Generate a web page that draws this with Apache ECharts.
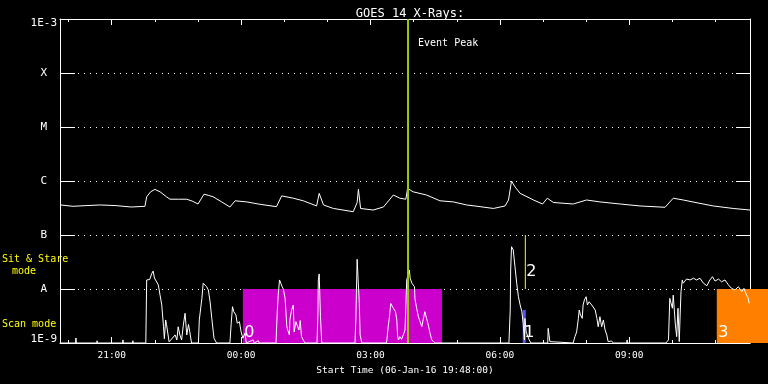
<!DOCTYPE html>
<html><head><meta charset="utf-8">
<script src="https://cdn.jsdelivr.net/npm/echarts@6/dist/echarts.min.js"></script>
<style>html,body{margin:0;padding:0;background:#000;}#c{width:768px;height:384px;}</style>
</head><body><div id="c"></div>
<script>
// ---------- data ----------
const titleText = 'GOES 14 X-Rays:';
const xAxisName = 'Start Time (06-Jan-16 19:48:00)';
const startHour = 19.8;   // 06-Jan-16 19:48 (hours from 06-Jan 00:00)
const endHour = 35.8;
const majorTickHours = [21, 24, 27, 30, 33];
const majorTickLabels = ['21:00', '00:00', '03:00', '06:00', '09:00'];
const minorTickHours = [20, 21, 22, 23, 24, 25, 26, 27, 28, 29, 30, 31, 32, 33, 34, 35];
const yMin = 1e-9, yMax = 1e-3;
const yTickLabels = ['1E-9', 'A', 'B', 'C', 'M', 'X', '1E-3'];

// long channel (1-8 A), hours / W m^-2
const longTimes = [19.82,20.10,20.40,20.73,21.10,21.45,21.77,21.81,21.90,22.00,22.12,22.27,22.35,22.55,22.74,22.88,23.00,23.14,23.25,23.35,23.55,23.74,23.86,24.13,24.44,24.82,24.94,25.21,25.44,25.75,25.81,25.91,26.14,26.60,26.69,26.72,26.77,27.06,27.30,27.53,27.68,27.82,27.86,27.89,27.99,28.30,28.61,28.92,29.23,29.54,29.85,30.12,30.20,30.27,30.35,30.47,30.78,30.99,31.10,31.24,31.70,32.01,32.32,32.79,33.25,33.83,34.02,34.25,34.64,34.95,35.41,35.80];
const longFlux = [3.6e-7,3.4e-7,3.5e-7,3.6e-7,3.5e-7,3.3e-7,3.4e-7,5.1e-7,6.3e-7,7.0e-7,6.3e-7,5.1e-7,4.6e-7,4.6e-7,4.6e-7,4.2e-7,3.75e-7,5.7e-7,5.4e-7,5.1e-7,4.1e-7,3.3e-7,4.3e-7,4.1e-7,3.7e-7,3.35e-7,5.3e-7,4.8e-7,4.3e-7,3.45e-7,5.9e-7,3.6e-7,3.1e-7,2.7e-7,4.0e-7,7.0e-7,3.1e-7,2.9e-7,3.3e-7,5.5e-7,4.8e-7,4.6e-7,7.3e-7,7.6e-7,6.3e-7,5.5e-7,4.3e-7,4.1e-7,3.6e-7,3.35e-7,3.1e-7,3.45e-7,4.45e-7,1.0e-6,7.8e-7,5.9e-7,4.45e-7,3.75e-7,4.8e-7,4.0e-7,3.75e-7,4.45e-7,4.1e-7,3.75e-7,3.45e-7,3.26e-7,4.8e-7,4.45e-7,3.85e-7,3.45e-7,3.1e-7,2.9e-7];

// short channel (0.5-4 A)
const shortTimes = [19.82,20.16,20.17,20.18,20.65,20.66,20.67,21.25,21.26,21.27,21.48,21.49,21.50,21.79,21.81,21.84,21.88,21.93,21.96,21.99,22.08,22.12,22.16,22.20,22.22,22.25,22.27,22.29,22.33,22.36,22.47,22.51,22.54,22.58,22.62,22.66,22.70,22.74,22.78,22.81,22.85,23.01,23.03,23.06,23.09,23.12,23.16,23.20,23.24,23.28,23.32,23.37,23.43,23.74,23.77,23.80,23.83,23.88,23.91,23.96,24.00,24.04,24.09,24.12,24.28,24.30,24.40,24.42,24.81,24.82,24.84,24.86,24.89,24.92,24.95,24.98,25.00,25.02,25.06,25.08,25.12,25.13,25.17,25.21,25.23,25.27,25.31,25.34,25.37,25.40,25.44,25.48,25.76,25.78,25.79,25.81,25.84,25.87,26.64,26.66,26.68,26.69,26.73,26.74,26.76,26.80,27.37,27.38,27.41,27.44,27.47,27.49,27.51,27.55,27.58,27.61,27.63,27.65,27.68,27.72,27.76,27.80,27.84,27.90,27.92,27.96,28.02,28.03,28.07,28.11,28.15,28.19,28.22,28.26,28.30,28.34,28.38,28.42,28.50,28.87,28.88,28.89,30.21,30.24,30.25,30.27,30.31,30.35,30.39,30.43,30.47,30.51,30.54,30.57,30.58,30.61,30.65,30.68,30.72,31.11,31.12,31.16,31.18,31.70,31.74,31.78,31.82,31.84,31.87,31.91,31.93,31.96,32.00,32.03,32.07,32.13,32.17,32.21,32.25,32.28,32.32,32.36,32.40,32.44,32.48,32.51,32.59,32.63,32.94,32.95,32.96,33.85,33.91,33.94,33.97,34.00,34.02,34.05,34.07,34.10,34.13,34.16,34.18,34.20,34.23,34.25,34.29,34.33,34.41,34.49,34.56,34.64,34.72,34.80,34.87,34.93,34.99,35.07,35.14,35.22,35.30,35.37,35.45,35.53,35.61,35.66,35.72,35.76,35.78];
const shortFlux = [1e-9,1e-9,1.24e-9,1e-9,1e-9,1.1e-9,1e-9,1e-9,1.14e-9,1e-9,1e-9,1.1e-9,1e-9,1e-9,1.47e-8,1.4e-8,1.5e-8,1.95e-8,2.15e-8,1.6e-8,1.19e-8,7.7e-9,5.06e-9,2.0e-9,1.2e-9,2.67e-9,2.2e-9,2.3e-9,1.05e-9,1.06e-9,1.41e-9,1.14e-9,2.0e-9,1.41e-9,1.14e-9,2.15e-9,3.55e-9,1.41e-9,2.2e-9,1.6e-9,1e-9,1e-9,2.67e-9,2.86e-9,6.7e-9,1.28e-8,1.36e-8,1.1e-8,9.6e-9,5.8e-9,2.86e-9,1.23e-9,1e-9,1e-9,2.32e-9,4.7e-9,3.8e-9,3.3e-9,2.32e-9,2.48e-9,1.6e-9,1.23e-9,1.52e-9,1e-9,1.14e-9,1e-9,1.1e-9,1e-9,1e-9,1.74e-9,4.08e-9,7.7e-9,1.47e-8,1.28e-8,1.1e-8,9.9e-9,9.6e-9,6.7e-9,2.0e-9,1.74e-9,1.41e-9,2.67e-9,4.08e-9,5.06e-9,1.6e-9,2.48e-9,2.67e-9,1.74e-9,2.6e-9,1.31e-9,1.14e-9,1e-9,1e-9,3.3e-9,1.47e-8,1.9e-8,3.07e-9,1e-9,1e-9,2.67e-9,1.47e-8,3.55e-8,3.55e-8,5.4e-9,1.41e-9,1e-9,1e-9,1.14e-9,2.0e-9,3.07e-9,5.4e-9,5.8e-9,4.7e-9,5.06e-9,3.8e-9,2.67e-9,1.31e-9,1.14e-9,1.31e-9,1.17e-9,1.41e-9,1.74e-9,1.47e-8,2.25e-8,1.58e-8,1.28e-8,1.1e-8,6.7e-9,4.4e-9,3.07e-9,2.48e-9,2.0e-9,2.67e-9,3.8e-9,2.86e-9,2.15e-9,1.52e-9,1.14e-9,1e-9,1e-9,1.06e-9,1e-9,1e-9,4.08e-9,2.25e-8,6.07e-8,5.3e-8,2.6e-8,1.28e-8,7.2e-9,5.06e-9,3.8e-9,2.32e-9,1.14e-9,2.86e-9,1.6e-9,1.31e-9,1.14e-9,1e-9,1e-9,1.87e-9,1.06e-9,1e-9,1e-9,1.31e-9,1.6e-9,2.86e-9,4.08e-9,3.3e-9,2.86e-9,5.06e-9,6.25e-9,7.2e-9,5.06e-9,5.8e-9,5.06e-9,5.4e-9,4.08e-9,2.86e-9,2.0e-9,3.07e-9,2.0e-9,2.67e-9,1.74e-9,1.41e-9,1.06e-9,1.09e-9,1e-9,1e-9,1.14e-9,1e-9,1e-9,1.14e-9,6.7e-9,7.2e-9,4.4e-9,7.7e-9,8.3e-9,2.15e-9,1.31e-9,4.4e-9,1.06e-9,3.3e-9,8.9e-9,1.47e-8,1.28e-8,1.4e-8,1.53e-8,1.47e-8,1.58e-8,1.47e-8,1.58e-8,1.28e-8,1.15e-8,1.47e-8,1.69e-8,1.4e-8,1.53e-8,1.36e-8,1.47e-8,1.19e-8,1.03e-8,9.6e-9,1.1e-8,8.9e-9,1.03e-8,7.7e-9,6.7e-9,5.4e-9];

// event markers
const eventPeakTime = 27.87;
const eventPeakLabel = 'Event Peak';
const boxStart = [24.04, 30.53, 35.03];
const boxEnd = [28.66, 30.60, 36.3];
const boxTop = [1e-8, 4.1e-9, 1e-8];
const boxLabels = ['0', '1', '3'];
const markerTime = 30.59;
const markerLow = 1e-8, markerHigh = 1e-7;
const markerLabel = '2';
const modeLabels = ['Sit & Stare', 'mode', 'Scan mode'];

// ---------- chart ----------
const MONO = 'DejaVu Sans Mono';
const boxColors = ['#cc00cc', '#5555ff', '#ff8000'];
const chart = echarts.init(document.getElementById('c'), null, {renderer: 'canvas'});

function xAxisCfg(pos, ticks, len, showLine, labels) {
  return {
    type: 'value', min: startHour, max: endHour, position: pos,
    axisLine: {show: showLine, onZero: false, lineStyle: {color: '#fff', width: 1}},
    axisTick: {show: true, inside: true, length: len, customValues: ticks, lineStyle: {color: '#fff', width: 1}},
    axisLabel: labels ? {
      show: true, customValues: majorTickHours, color: '#fff', fontFamily: MONO, fontSize: 9.5, margin: 8,
      formatter: v => majorTickLabels[majorTickHours.indexOf(Math.round(v))] || ''
    } : {show: false},
    splitLine: {show: false},
    name: labels ? xAxisName : '', nameLocation: 'middle', nameGap: 20,
    nameTextStyle: {color: '#fff', fontFamily: MONO, fontSize: 9.5}
  };
}

const option = {
  backgroundColor: '#000',
  animation: false,
  title: {
    text: titleText, left: 405, top: 3, textAlign: 'center',
    textStyle: {color: '#fff', fontFamily: MONO, fontSize: 12, fontWeight: 'normal'}
  },
  grid: {left: 60, right: 18, top: 19, bottom: 41, containLabel: false, outerBoundsMode: 'none'},
  xAxis: [
    xAxisCfg('bottom', majorTickHours, 6, true, true),
    xAxisCfg('bottom', minorTickHours, 3, false, false),
    xAxisCfg('top', majorTickHours, 6, true, false),
    xAxisCfg('top', minorTickHours, 3, false, false)
  ],
  yAxis: [
    {
      type: 'log', logBase: 10, min: yMin, max: yMax, position: 'left',
      axisLine: {show: true, lineStyle: {color: '#fff', width: 1}},
      axisTick: {show: true, inside: true, length: 15, lineStyle: {color: '#fff', width: 1}},
      axisLabel: {
        color: '#fff', fontFamily: MONO, fontSize: 11, margin: 3,
        formatter: v => {
          const i = Math.round(Math.log10(v)) + 9;
          const t = yTickLabels[i] || '';
          if (i === 6) return '{top|' + t + '}';
          if (i === 0) return '{bot|' + t + '}';
          return '{let|' + t + '}';
        },
        rich: {
          top: {padding: [8, 0, 0, 0], color: '#fff', fontFamily: MONO, fontSize: 11},
          bot: {padding: [0, 0, 7, 0], color: '#fff', fontFamily: MONO, fontSize: 11},
          let: {padding: [0, 10, 0, 0], color: '#fff', fontFamily: MONO, fontSize: 11}
        }
      },
      splitLine: {show: true, lineStyle: {color: '#fff', width: 1, type: [1, 5]}}
    },
    {
      type: 'log', logBase: 10, min: yMin, max: yMax, position: 'right',
      axisLine: {show: true, lineStyle: {color: '#fff', width: 1}},
      axisTick: {show: true, inside: true, length: 14, lineStyle: {color: '#fff', width: 1}},
      axisLabel: {show: false},
      splitLine: {show: false}
    }
  ],
  graphic: [
    {type: 'text', x: 2, y: 259, style: {text: modeLabels[0], fill: '#ffff00', font: '10px ' + MONO, verticalAlign: 'middle'}},
    {type: 'text', x: 24, y: 271, style: {text: modeLabels[1], fill: '#ffff00', font: '10px ' + MONO, align: 'center', verticalAlign: 'middle'}},
    {type: 'text', x: 2, y: 324, style: {text: modeLabels[2], fill: '#ffff00', font: '10px ' + MONO, verticalAlign: 'middle'}}
  ],
  series: [
    {
      type: 'custom', name: 'modes', xAxisIndex: 0, yAxisIndex: 0, clip: false, z: 1, silent: true,
      data: boxStart.map((s, i) => [s, boxEnd[i], boxTop[i], i]),
      encode: {x: [0, 1], y: 2},
      renderItem: (params, api) => {
        const i = api.value(3);
        const a = api.coord([api.value(0), api.value(2)]);
        const b = api.coord([api.value(1), yMin]);
        return {type: 'rect', shape: {x: a[0], y: a[1], width: b[0] - a[0], height: b[1] - a[1]},
                style: {fill: boxColors[i]}};
      }
    },
    {
      type: 'line', name: 'long', xAxisIndex: 0, yAxisIndex: 0, z: 3,
      data: longTimes.map((t, i) => [t, longFlux[i]]),
      symbol: 'none', showSymbol: false, lineStyle: {color: '#fff', width: 1}
    },
    {
      type: 'line', name: 'short', xAxisIndex: 0, yAxisIndex: 0, z: 3,
      data: shortTimes.map((t, i) => [t, shortFlux[i]]),
      symbol: 'none', showSymbol: false, lineStyle: {color: '#fff', width: 1}
    },
    {
      type: 'custom', name: 'boxLabels', xAxisIndex: 0, yAxisIndex: 0, clip: false, z: 5, silent: true,
      data: boxStart.map((s, i) => [s, yMin, i]),
      encode: {x: 0, y: 1},
      renderItem: (params, api) => {
        const p = api.coord([api.value(0), api.value(1)]);
        return {type: 'text', x: p[0] + 1.5, y: p[1] - 10,
                style: {text: boxLabels[api.value(2)], fill: '#fff', font: '16px DejaVu Sans', verticalAlign: 'middle'}};
      }
    },
    {
      type: 'custom', name: 'markers', xAxisIndex: 0, yAxisIndex: 0, clip: false, z: 6, silent: true,
      data: [[eventPeakTime, yMin, yMax, 0], [markerTime, markerLow, markerHigh, 1]],
      encode: {x: 0, y: [1, 2]},
      renderItem: (params, api) => {
        const k = api.value(3);
        const top = api.coord([api.value(0), api.value(2)]);
        const bot = api.coord([api.value(0), api.value(1)]);
        if (k === 0) {
          return {type: 'group', children: [
            {type: 'line', shape: {x1: top[0], y1: top[1], x2: bot[0], y2: bot[1]}, style: {stroke: '#99cc00', lineWidth: 2}},
            {type: 'text', x: top[0] + 10, y: top[1] + 24, style: {text: eventPeakLabel, fill: '#fff', font: '10px ' + MONO, verticalAlign: 'middle'}}
          ]};
        }
        return {type: 'group', children: [
          {type: 'line', shape: {x1: top[0], y1: top[1], x2: bot[0], y2: bot[1]}, style: {stroke: '#ffff00', lineWidth: 1}},
          {type: 'text', x: top[0] + 1, y: top[1] + 0.68 * (bot[1] - top[1]), style: {text: markerLabel, fill: '#fff', font: '16px DejaVu Sans', verticalAlign: 'middle'}}
        ]};
      }
    }
  ]
};
chart.setOption(option);
</script>
</body></html>
